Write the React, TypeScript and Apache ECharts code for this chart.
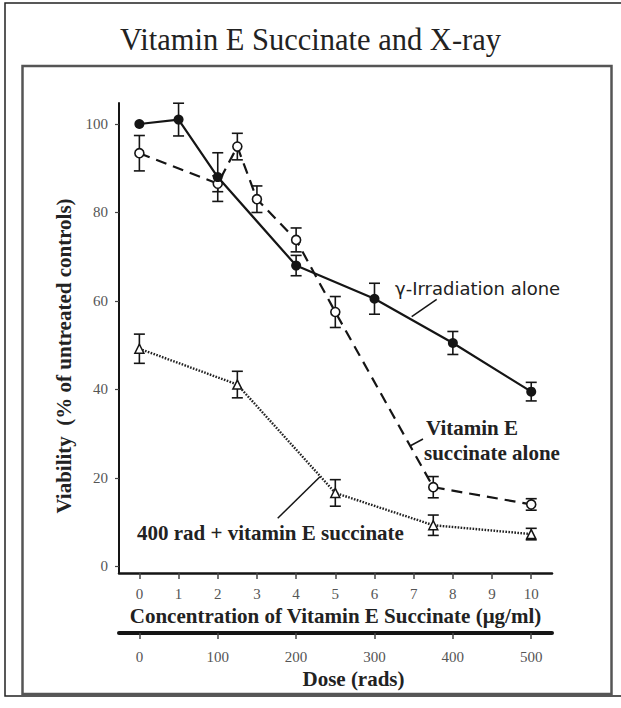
import React, { useEffect, useRef } from "react";
import * as echarts from "echarts";

// ---- data ----
const concTicks = [0, 1, 2, 3, 4, 5, 6, 7, 8, 9, 10];
const doseTicks = [0, 100, 200, 300, 400, 500];
const viabilityTicks = [0, 20, 40, 60, 80, 100];

const gammaX = [0, 1, 2, 4, 6, 8, 10];
const gammaY = [100, 101, 88, 68, 60.5, 50.5, 39.5];
const gammaErr = [0, 3.7, 5.5, 2.3, 3.5, 2.6, 2.1];

const vitEX = [0, 2, 2.5, 3, 4, 5, 7.5, 10];
const vitEY = [93.4, 86.5, 94.9, 83.0, 73.8, 57.5, 17.9, 14.0];
const vitEErr = [4, 1.8, 3, 3, 2.7, 3.5, 2.4, 1.3];

const radX = [0, 2.5, 5, 7.5, 10];
const radY = [49.2, 41.1, 16.6, 9.3, 7.3];
const radErr = [3.3, 3, 3, 2.3, 1.3];

const SERIF = "'Liberation Serif', 'Times New Roman', serif";
const INK = "#151515";

function pairs(xs: number[], ys: number[]) {
  return xs.map((x, i) => [x, ys[i]]);
}
function errs(xs: number[], ys: number[], es: number[]) {
  return xs
    .map((x, i) => [x, ys[i] - es[i], ys[i] + es[i]])
    .filter((d, i) => es[i] > 0);
}

function errorSeries(data: number[][]) {
  return {
    type: "custom",
    xAxisIndex: 0,
    yAxisIndex: 0,
    data,
    encode: { x: 0, y: [1, 2] },
    z: 1,
    renderItem: (params: any, api: any) => {
      const x = api.value(0);
      const lo = api.coord([x, api.value(1)]);
      const hi = api.coord([x, api.value(2)]);
      const hw = 5.5;
      const st = { stroke: INK, lineWidth: 1.6 };
      return {
        type: "group",
        children: [
          { type: "line", shape: { x1: hi[0], y1: hi[1], x2: lo[0], y2: lo[1] }, style: st },
          { type: "line", shape: { x1: hi[0] - hw, y1: hi[1], x2: hi[0] + hw, y2: hi[1] }, style: st },
          { type: "line", shape: { x1: lo[0] - hw, y1: lo[1], x2: lo[0] + hw, y2: lo[1] }, style: st },
        ],
      };
    },
  };
}

export default function App() {
  const ref = useRef<HTMLDivElement>(null);
  useEffect(() => {
    if (!ref.current) return;
    const chart = echarts.init(ref.current, undefined, { renderer: "svg" });
    const option: any = {
      animation: false,
      backgroundColor: "#ffffff",
      title: {
        text: "Vitamin E Succinate and X-ray",
        left: "center",
        top: 24,
        padding: [0, 0, 0, 14],
        textStyle: { fontFamily: SERIF, fontSize: 30.5, fontWeight: "normal", color: "#222" },
      },
      grid: { left: 119, top: 103, width: 433, height: 470, containLabel: false },
      xAxis: [
        {
          type: "value",
          min: -0.52,
          max: 10.53,
          position: "bottom",
          name: "Concentration of Vitamin E Succinate (μg/ml)",
          nameLocation: "middle",
          nameGap: 31,
          nameTextStyle: { fontFamily: SERIF, fontSize: 21, fontWeight: "bold", color: "#222" },
          axisLine: { onZero: false, lineStyle: { color: INK, width: 2.5 } },
          axisTick: { customValues: concTicks, length: 6, lineStyle: { color: "#444", width: 1.5 } },
          axisLabel: { customValues: concTicks, margin: 13, fontFamily: SERIF, fontSize: 15, color: "#555" },
          splitLine: { show: false },
        },
        {
          type: "value",
          min: -26,
          max: 526.5,
          position: "bottom",
          offset: 60,
          name: "Dose (rads)",
          nameLocation: "middle",
          nameGap: 35,
          nameTextStyle: { fontFamily: SERIF, fontSize: 21, fontWeight: "bold", color: "#222", padding: [0, 0, 0, 36] },
          axisLine: { onZero: false, lineStyle: { color: INK, width: 4 } },
          axisTick: { customValues: doseTicks, length: 6, lineStyle: { color: "#444", width: 1.5 } },
          axisLabel: { customValues: doseTicks, margin: 16, fontFamily: SERIF, fontSize: 15, color: "#555" },
          splitLine: { show: false },
        },
      ],
      yAxis: {
        type: "value",
        min: -1.5,
        max: 104.75,
        name: "Viability  (% of untreated controls)",
        nameLocation: "middle",
        nameGap: 38,
        nameTextStyle: { fontFamily: SERIF, fontSize: 21, fontWeight: "bold", color: "#222", padding: [0, 36, 0, 0] },
        axisLine: { onZero: false, lineStyle: { color: INK, width: 2 } },
        axisTick: { customValues: viabilityTicks, length: 4, lineStyle: { color: "#444", width: 1.2 } },
        axisLabel: { customValues: viabilityTicks, margin: 11, fontFamily: SERIF, fontSize: 15, color: "#555" },
        splitLine: { show: false },
      },
      graphic: [
        { type: "rect", silent: true, z: -10, shape: { x: 5, y: 3, width: 640, height: 693 }, style: { fill: "none", stroke: "#222", lineWidth: 1.5 } },
        { type: "rect", silent: true, z: -10, shape: { x: 22.5, y: 66, width: 589, height: 628 }, style: { fill: "none", stroke: "#555", lineWidth: 2.5 } },
        { type: "line", silent: true, shape: { x1: 411.7, y1: 316.7, x2: 436.7, y2: 299.3 }, style: { stroke: INK, lineWidth: 1.5 } },
        { type: "line", silent: true, shape: { x1: 410, y1: 446, x2: 423, y2: 439 }, style: { stroke: INK, lineWidth: 1.5 } },
        { type: "line", silent: true, shape: { x1: 277.7, y1: 518.3, x2: 320, y2: 476.7 }, style: { stroke: INK, lineWidth: 1.5 } },
        { type: "text", silent: true, x: 395, y: 288, style: { text: "γ-Irradiation alone", font: "18px 'DejaVu Sans', sans-serif", fill: "#222", verticalAlign: "middle" } },
        { type: "text", silent: true, x: 426, y: 428, style: { text: "Vitamin E", font: `bold 21px ${SERIF}`, fill: "#222", verticalAlign: "middle" } },
        { type: "text", silent: true, x: 424, y: 453, style: { text: "succinate alone", font: `bold 21px ${SERIF}`, fill: "#222", verticalAlign: "middle" } },
        { type: "text", silent: true, x: 137, y: 533, style: { text: "400 rad + vitamin E succinate", font: `bold 21px ${SERIF}`, fill: "#222", verticalAlign: "middle" } },
      ],
      series: [
        errorSeries(errs(gammaX, gammaY, gammaErr)),
        errorSeries(errs(vitEX, vitEY, vitEErr)),
        errorSeries(errs(radX, radY, radErr)),
        {
          name: "γ-Irradiation alone",
          type: "line",
          xAxisIndex: 0,
          data: pairs(gammaX, gammaY),
          symbol: "circle",
          symbolSize: 10,
          z: 3,
          itemStyle: { color: INK },
          lineStyle: { color: INK, width: 2.2 },
        },
        {
          name: "Vitamin E succinate alone",
          type: "line",
          xAxisIndex: 0,
          data: pairs(vitEX, vitEY),
          symbol: "circle",
          symbolSize: 9,
          z: 2,
          itemStyle: { color: "#ffffff", borderColor: INK, borderWidth: 1.6 },
          lineStyle: { color: INK, width: 2.2, type: [11, 7] },
        },
        {
          name: "400 rad + vitamin E succinate",
          type: "line",
          xAxisIndex: 0,
          data: pairs(radX, radY),
          symbol: "triangle",
          symbolSize: 9,
          z: 2,
          itemStyle: { color: "#ffffff", borderColor: INK, borderWidth: 1.5 },
          lineStyle: { color: "#222", width: 2.4, type: [1.6, 1.4] },
        },
      ],
    };
    chart.setOption(option);
    return () => chart.dispose();
  }, []);
  return (
    <div
      ref={ref}
      style={{ position: "fixed", left: 0, top: 0, width: 621, height: 708, background: "#fff" }}
    />
  );
}
